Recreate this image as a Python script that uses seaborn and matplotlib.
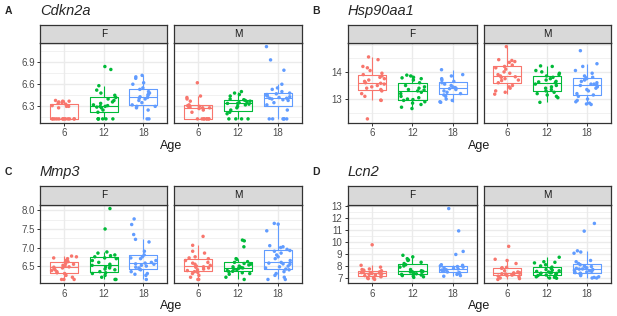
import numpy as np
import pandas as pd
import matplotlib
matplotlib.use('Agg')
import matplotlib.pyplot as plt
import matplotlib.ticker as mticker
import seaborn as sns

sns.set_style('white')
plt.rcParams['font.family'] = ['Liberation Sans', 'DejaVu Sans']
np.random.seed(3)

ages = ['6', '12', '18']
sexes = ['F', 'M']
colors = ['#F8766D', '#00BA38', '#619CFF']

# Cdkn2a
cdkn2a_F_6 = [6.13] * 13 + [6.28, 6.3, 6.3, 6.31, 6.33, 6.34, 6.35, 6.36, 6.37, 6.37, 6.38]
cdkn2a_F_12 = [6.84, 6.80, 6.58, 6.52, 6.48, 6.45, 6.42, 6.40, 6.38, 6.36, 6.34, 6.32, 6.31, 6.30,
               6.30, 6.29, 6.28, 6.25, 6.22, 6.13, 6.13, 6.13, 6.13, 6.13, 6.13]
cdkn2a_F_18 = [6.72, 6.70, 6.68, 6.62, 6.60, 6.55, 6.53, 6.50, 6.48, 6.46, 6.45, 6.43, 6.42, 6.41,
               6.40, 6.38, 6.35, 6.32, 6.30, 6.30, 6.28, 6.25, 6.13, 6.13]
cdkn2a_M_6 = [6.62, 6.44, 6.42, 6.40, 6.37, 6.32, 6.31, 6.30, 6.30, 6.29, 6.28, 6.28, 6.27, 6.25,
              6.22, 6.13, 6.13, 6.13, 6.13, 6.13, 6.13, 6.13, 6.13]
cdkn2a_M_12 = [6.50, 6.48, 6.46, 6.44, 6.40, 6.39, 6.38, 6.37, 6.36, 6.35, 6.34, 6.34, 6.33, 6.32,
               6.30, 6.28, 6.25, 6.22, 6.20, 6.13, 6.13, 6.13, 6.13]
cdkn2a_M_18 = [7.11, 6.93, 6.79, 6.60, 6.55, 6.53, 6.50, 6.48, 6.47, 6.46, 6.45, 6.44, 6.43, 6.42,
               6.41, 6.41, 6.40, 6.39, 6.38, 6.35, 6.32, 6.25, 6.13, 6.13, 6.13, 6.13, 6.13, 6.13]

# Hsp90aa1
hsp_F_6 = [14.55, 14.45, 14.2, 14.15, 14.05, 13.95, 13.9, 13.85, 13.8, 13.75, 13.7, 13.65, 13.6,
           13.58, 13.55, 13.5, 13.45, 13.4, 13.35, 13.3, 13.2, 13.1, 12.96, 12.95, 12.27]
hsp_F_12 = [13.88, 13.85, 13.8, 13.78, 13.75, 13.7, 13.6, 13.5, 13.45, 13.4, 13.35, 13.33, 13.3,
            13.25, 13.2, 13.1, 13.05, 13.0, 12.98, 12.95, 12.9, 12.85, 12.8, 12.7, 12.65]
hsp_F_18 = [14.08, 13.9, 13.85, 13.75, 13.7, 13.65, 13.6, 13.55, 13.5, 13.45, 13.42, 13.4, 13.38,
            13.35, 13.3, 13.25, 13.2, 13.15, 13.1, 13.0, 12.95, 12.9, 12.88]
hsp_M_6 = [14.93, 14.45, 14.42, 14.38, 14.35, 14.25, 14.2, 14.15, 14.1, 14.0, 13.95, 13.9, 13.85,
           13.82, 13.8, 13.75, 13.7, 13.68, 13.6, 13.5, 13.45, 13.4, 13.3, 13.25, 13.18]
hsp_M_12 = [14.22, 14.2, 14.05, 14.0, 13.95, 13.9, 13.85, 13.8, 13.75, 13.7, 13.65, 13.63, 13.6,
            13.55, 13.5, 13.45, 13.4, 13.35, 13.3, 13.25, 13.2, 13.15, 13.1, 13.05, 12.88]
hsp_M_18 = [14.78, 14.3, 14.2, 14.05, 13.95, 13.85, 13.8, 13.78, 13.75, 13.7, 13.65, 13.6, 13.55,
            13.55, 13.52, 13.5, 13.45, 13.4, 13.35, 13.3, 13.2, 13.15, 13.1, 13.0, 12.95, 12.9,
            12.85, 12.82, 12.8]

# Mmp3
mmp3_F_6 = [6.77, 6.75, 6.72, 6.7, 6.65, 6.62, 6.6, 6.57, 6.55, 6.52, 6.5, 6.48, 6.47, 6.45, 6.43,
            6.4, 6.38, 6.35, 6.32, 6.3, 6.25, 6.2, 6.14, 6.14, 6.14]
mmp3_F_12 = [8.05, 7.5, 6.88, 6.85, 6.8, 6.78, 6.75, 6.72, 6.7, 6.65, 6.6, 6.55, 6.52, 6.5, 6.48,
             6.45, 6.42, 6.4, 6.35, 6.32, 6.3, 6.25, 6.2, 6.14, 6.14]
mmp3_F_18 = [7.77, 7.62, 7.35, 7.22, 7.15, 6.9, 6.8, 6.75, 6.72, 6.7, 6.65, 6.6, 6.58, 6.56, 6.55,
             6.52, 6.5, 6.47, 6.45, 6.42, 6.4, 6.35, 6.3, 6.28, 6.25, 6.14]
mmp3_M_6 = [7.3, 7.06, 6.9, 6.85, 6.75, 6.72, 6.7, 6.65, 6.6, 6.58, 6.55, 6.52, 6.5, 6.48, 6.47,
            6.45, 6.42, 6.4, 6.38, 6.35, 6.33, 6.3, 6.25, 6.2, 6.14, 6.14]
mmp3_M_12 = [7.2, 7.18, 7.02, 6.7, 6.68, 6.62, 6.6, 6.57, 6.55, 6.53, 6.5, 6.48, 6.46, 6.45, 6.44,
             6.42, 6.4, 6.38, 6.36, 6.35, 6.32, 6.3, 6.28, 6.2, 6.14]
mmp3_M_18 = [7.65, 7.63, 7.45, 7.05, 7.02, 7.0, 6.95, 6.92, 6.9, 6.85, 6.8, 6.75, 6.7, 6.65, 6.6,
             6.58, 6.56, 6.55, 6.5, 6.48, 6.45, 6.42, 6.4, 6.35, 6.3, 6.25, 6.2, 6.14, 6.14]

# Lcn2
lcn2_F_6 = [9.75, 8.05, 7.9, 7.75, 7.7, 7.65, 7.6, 7.55, 7.5, 7.48, 7.45, 7.42, 7.4, 7.38, 7.35,
            7.3, 7.25, 7.2, 7.15, 7.1, 7.05, 7.0, 6.95, 6.88]
lcn2_F_12 = [8.88, 8.75, 8.6, 8.5, 8.45, 8.3, 8.2, 8.1, 8.0, 7.9, 7.7, 7.6, 7.55, 7.52, 7.5, 7.48,
             7.45, 7.4, 7.35, 7.3, 7.25, 7.2, 7.15, 7.1, 7.05]
lcn2_F_18 = [12.75, 10.9, 9.2, 8.95, 8.1, 8.05, 8.0, 7.95, 7.9, 7.85, 7.8, 7.75, 7.7, 7.68, 7.65,
             7.6, 7.55, 7.5, 7.45, 7.4, 7.35, 7.3, 7.2, 7.15]
lcn2_M_6 = [9.62, 8.55, 8.45, 8.2, 7.88, 7.85, 7.8, 7.6, 7.5, 7.45, 7.42, 7.4, 7.38, 7.35, 7.33,
            7.3, 7.28, 7.25, 7.2, 7.15, 7.1, 7.0, 6.95, 6.88]
lcn2_M_12 = [8.72, 8.35, 8.3, 8.25, 8.1, 8.0, 7.9, 7.8, 7.7, 7.65, 7.6, 7.55, 7.5, 7.45, 7.42, 7.4,
             7.38, 7.35, 7.3, 7.25, 7.2, 7.15, 7.1, 7.05, 7.0, 6.98]
lcn2_M_18 = [11.52, 10.88, 9.25, 9.15, 9.05, 8.45, 8.35, 8.2, 8.1, 8.0, 7.95, 7.9, 7.85, 7.8, 7.75,
             7.74, 7.7, 7.65, 7.6, 7.55, 7.5, 7.45, 7.4, 7.35, 7.3, 7.2, 7.1, 7.05, 7.0, 7.0]

genes = ['Cdkn2a', 'Hsp90aa1', 'Mmp3', 'Lcn2']
letters = ['A', 'B', 'C', 'D']
gene_data = {
    'Cdkn2a': [cdkn2a_F_6, cdkn2a_F_12, cdkn2a_F_18, cdkn2a_M_6, cdkn2a_M_12, cdkn2a_M_18],
    'Hsp90aa1': [hsp_F_6, hsp_F_12, hsp_F_18, hsp_M_6, hsp_M_12, hsp_M_18],
    'Mmp3': [mmp3_F_6, mmp3_F_12, mmp3_F_18, mmp3_M_6, mmp3_M_12, mmp3_M_18],
    'Lcn2': [lcn2_F_6, lcn2_F_12, lcn2_F_18, lcn2_M_6, lcn2_M_12, lcn2_M_18],
}
yticks = {
    'Cdkn2a': ([6.3, 6.6, 6.9], 0.15, '%.1f'),
    'Hsp90aa1': ([13, 14], 0.5, '%d'),
    'Mmp3': ([6.5, 7.0, 7.5, 8.0], 0.25, '%.1f'),
    'Lcn2': ([7, 8, 9, 10, 11, 12, 13], 0.5, '%d'),
}

W, H = 617, 316
fig = plt.figure(figsize=(W / 100, H / 100), dpi=100)


def rect(x0, y0, x1, y1):
    return [x0 / W, 1 - y1 / H, (x1 - x0) / W, (y1 - y0) / H]


# panel layout in pixels: (facet x ranges, strip top, strip bottom, plot bottom)
layout = {
    'Cdkn2a': ([(40.5, 167), (174, 302)], 25, 43, 122.5),
    'Hsp90aa1': ([(348, 477), (483.5, 610.5)], 25, 43, 122.5),
    'Mmp3': ([(40.5, 167), (174, 302)], 186, 205, 283),
    'Lcn2': ([(348, 477), (483.5, 610.5)], 186, 205, 283),
}
title_pos = {'Cdkn2a': (5, 40, 11), 'Hsp90aa1': (312, 348, 11),
             'Mmp3': (5, 40, 172), 'Lcn2': (312, 348, 172)}

for letter, gene in zip(letters, genes):
    rows = []
    for i, vals in enumerate(gene_data[gene]):
        for v in vals:
            rows.append({'Sex': sexes[i // 3], 'Age': ages[i % 3], 'value': v})
    df = pd.DataFrame(rows)
    lo, hi = df['value'].min(), df['value'].max()
    pad = (hi - lo) * 0.05
    majors, half, fmt = yticks[gene]
    xr, st, sb, pb = layout[gene]

    for j, sex in enumerate(sexes):
        x0, x1 = xr[j]
        ax = fig.add_axes(rect(x0, sb, x1, pb))
        sub = df[df['Sex'] == sex]
        sns.boxplot(data=sub, x='Age', y='value', hue='Age', order=ages, hue_order=ages,
                    palette=colors, fill=False, width=0.7, showfliers=False, showcaps=False,
                    linewidth=0.8, legend=False, ax=ax, zorder=2)
        sns.stripplot(data=sub, x='Age', y='value', hue='Age', order=ages, hue_order=ages,
                      palette=colors, jitter=0.32, size=2.5, linewidth=0, legend=False,
                      ax=ax, zorder=3)
        ax.set_xlim(-0.6, 2.6)
        ax.set_ylim(lo - pad, hi + pad)
        ax.yaxis.set_major_locator(mticker.FixedLocator(majors))
        ax.yaxis.set_minor_locator(mticker.MultipleLocator(half))
        ax.yaxis.set_major_formatter(mticker.FormatStrFormatter(fmt))
        ax.grid(True, which='major', color='#EBEBEB', linewidth=1.0, zorder=0)
        ax.grid(True, which='minor', axis='y', color='#EBEBEB', linewidth=0.5, zorder=0)
        ax.set_axisbelow(True)
        for s in ax.spines.values():
            s.set_color('#333333')
            s.set_linewidth(0.9)
        ax.tick_params(axis='both', which='major', direction='out', length=2.5, width=0.7,
                       color='#333333', labelsize=7, labelcolor='#4D4D4D', pad=1.5,
                       left=(j == 0), bottom=True, labelleft=(j == 0))
        ax.tick_params(axis='y', which='minor', length=0)
        ax.set_xlabel('')
        ax.set_ylabel('')

        sax = fig.add_axes(rect(x0, st, x1, sb))
        sax.set_facecolor('#D9D9D9')
        sax.set_xticks([])
        sax.set_yticks([])
        for s in sax.spines.values():
            s.set_color('#333333')
            s.set_linewidth(0.9)
        sax.text(0.5, 0.5, sex, ha='center', va='center', fontsize=7.2, color='#1A1A1A',
                 transform=sax.transAxes)

    lx, tx, ty = title_pos[gene]
    fig.text(lx / W, 1 - ty / H, letter, fontsize=7.5, fontweight='bold', va='center')
    fig.text(tx / W, 1 - ty / H, gene, fontsize=10.5, fontstyle='italic', va='center')
    cx = (xr[0][0] + xr[1][1]) / 2
    fig.text(cx / W, 1 - (pb + 23) / H, 'Age', fontsize=9, ha='center', va='center',
             color='#1A1A1A')

fig.savefig('out.png', dpi=100)
